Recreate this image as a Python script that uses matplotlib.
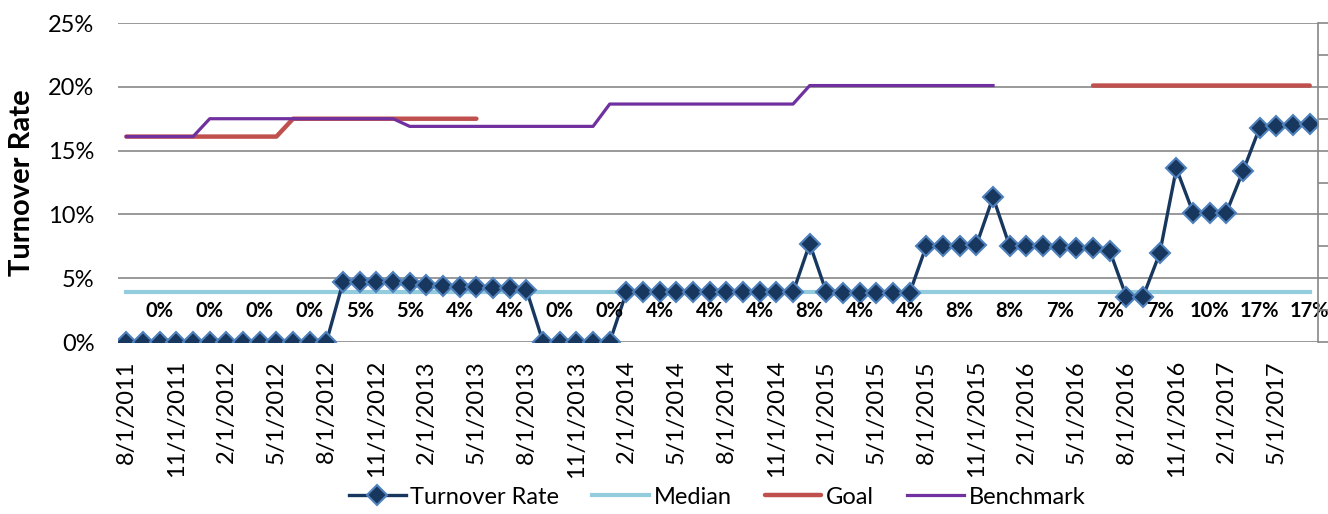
import numpy as np
import matplotlib.pyplot as plt

plt.rcParams['font.family'] = ['Lato', 'DejaVu Sans']

# monthly categories 8/1/2011 .. 7/1/2017, every third one labelled
tick_labels = ["8/1/2011", "11/1/2011", "2/1/2012", "5/1/2012", "8/1/2012",
               "11/1/2012", "2/1/2013", "5/1/2013", "8/1/2013", "11/1/2013",
               "2/1/2014", "5/1/2014", "8/1/2014", "11/1/2014", "2/1/2015",
               "5/1/2015", "8/1/2015", "11/1/2015", "2/1/2016", "5/1/2016",
               "8/1/2016", "11/1/2016", "2/1/2017", "5/1/2017"]
n_months = 72

# values in %
turnover = [0, 0, 0, 0, 0, 0, 0, 0, 0, 0, 0, 0, 0,
            4.7, 4.7, 4.7, 4.7, 4.6, 4.5, 4.4, 4.3, 4.3, 4.2, 4.2, 4.1,
            0, 0, 0, 0, 0,
            3.9, 3.9, 3.9, 3.9, 3.9, 3.9, 3.9, 3.9, 3.9, 3.9, 3.9,
            7.7,
            3.9, 3.85, 3.85, 3.85, 3.85, 3.85,
            7.55, 7.55, 7.55, 7.6,
            11.35,
            7.5, 7.5, 7.5, 7.45, 7.4, 7.35, 7.15,
            3.55, 3.55,
            6.95, 13.6,
            10.15, 10.15, 10.15,
            13.4,
            16.8, 16.9, 17.0, 17.1]
median = [3.94] * n_months
nan = np.nan
goal = ([16.1] * 10 + [17.5] * 12 + [nan] * 36 + [20.1] * 14)
benchmark = ([16.1] * 5 + [17.5] * 12 + [16.9] * 12 + [18.65] * 12
             + [20.1] * 12 + [nan] * 19)

x = np.arange(n_months)

fig = plt.figure(figsize=(13.28, 5.14), dpi=100)
ax = fig.add_axes([0.0889, 0.3346, 0.9036, 0.6206])

ax.plot(x, median, color='#93CDDD', lw=3.0, label='Median', zorder=3)
ax.plot(x, goal, color='#C0504D', lw=3.2, solid_capstyle='round',
        label='Goal', zorder=3)
ax.plot(x, benchmark, color='#7030A0', lw=2.3, label='Benchmark', zorder=4)
ax.plot(x, turnover, color='#17375E', lw=2.4, marker='D', markersize=10,
        markerfacecolor='#17375E', markeredgecolor='#4F81BD',
        markeredgewidth=1.5, label='Turnover Rate', zorder=5)

# quarterly data labels sitting on a fixed row
for i in range(2, n_months, 3):
    ax.text(i, 2.4, f"{turnover[i]:.0f}%", ha='center', va='center',
            fontsize=14.5, fontweight='bold', color='black', zorder=6)

ax.set_xlim(-0.5, n_months - 0.5)
ax.set_ylim(0, 25)
ax.set_yticks(np.arange(0, 26, 5))
ax.set_yticklabels([f"{v}%" for v in range(0, 26, 5)], fontsize=17)
ax.set_xticks(x[::3])
ax.set_xticklabels(tick_labels, rotation=90, fontsize=17)
ax.tick_params(axis='both', length=0)
ax.tick_params(axis='x', pad=13)
ax.tick_params(axis='y', pad=17)
ax.grid(axis='y', color='#878787', lw=1.2, zorder=0)
for s in ax.spines.values():
    s.set_visible(False)
ax.set_ylabel("Turnover Rate", fontsize=21, fontweight='bold', va='center')
ax.yaxis.set_label_coords(-0.08, 0.5)

ax2 = ax.twinx()
ax2.set_ylim(0, 25)
ax2.set_yticks(np.arange(0, 25.1, 2.5))
ax2.set_yticklabels([])
ax2.tick_params(axis='y', direction='out', length=9, width=1.2,
                color='#878787')
for side in ['left', 'top', 'bottom']:
    ax2.spines[side].set_visible(False)
ax2.spines['right'].set_color('#878787')
ax2.spines['right'].set_linewidth(1.2)

handles, labels = ax.get_legend_handles_labels()
order = [3, 0, 1, 2]
fig.legend([handles[i] for i in order], [labels[i] for i in order],
           loc='center', bbox_to_anchor=(0.54, 0.033), ncol=4, frameon=False,
           fontsize=17, handlelength=2.4, handletextpad=0.2,
           columnspacing=1.4)

fig.savefig('out.png', dpi=100)
